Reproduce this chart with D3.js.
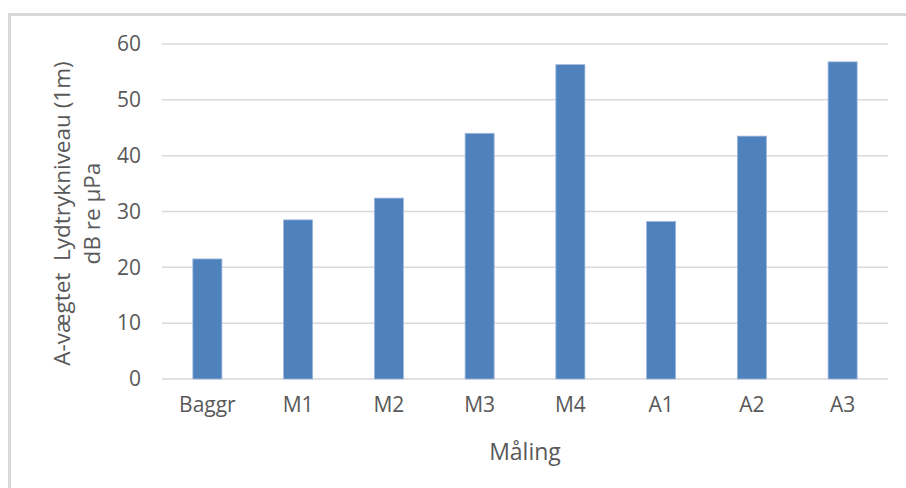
<!DOCTYPE html>
<html><head><meta charset="utf-8">
<script src="https://cdn.jsdelivr.net/npm/d3@7"></script>
<style>html,body{margin:0;padding:0;background:#fff;}svg{display:block;}</style>
</head><body>
<script>
const categories = ["Baggr","M1","M2","M3","M4","A1","A2","A3"];
const values = [21.5, 28.5, 32.4, 44.0, 56.3, 28.2, 43.5, 56.8];
const yTicks = [0,10,20,30,40,50,60];
const yTitle = ["A-vægtet  Lydtrykniveau (1m)", "dB re µPa"];
const xTitle = "Måling";

(function () {
const W = 906, H = 488;
const svg = d3.select("body").append("svg").attr("width", W).attr("height", H);
const font = "'Open Sans', sans-serif";
const textColor = "#595959";

// outer frame
svg.append("rect").attr("x", 9.5).attr("y", 14.5).attr("width", 910).attr("height", 500)
  .attr("fill", "none").attr("stroke", "#d9d9d9").attr("stroke-width", 3);

const pLeft = 162, pRight = 888, pTop = 44, pBottom = 379;
const x = d3.scaleBand().domain(categories).range([pLeft, pRight]).paddingInner(0.68).paddingOuter(0.34);
const y = d3.scaleLinear().domain([0, 60]).range([pBottom, pTop]);

// gridlines
svg.append("g").selectAll("line").data(yTicks).join("line")
  .attr("x1", pLeft).attr("x2", pRight)
  .attr("y1", d => y(d)).attr("y2", d => y(d))
  .attr("stroke", "#d9d9d9").attr("stroke-width", 1.5);

// bars
svg.append("g").selectAll("rect").data(values).join("rect")
  .attr("x", (d, i) => x(categories[i]))
  .attr("y", d => y(d))
  .attr("width", x.bandwidth())
  .attr("height", d => y(0) - y(d))
  .attr("fill", "#4f81bd")
  .attr("stroke", "#9db7dc").attr("stroke-width", 0.8);

// y axis
const yAxis = d3.axisLeft(y).tickValues(yTicks).tickSize(0).tickPadding(21);
const gy = svg.append("g").attr("transform", `translate(${pLeft},0)`).call(yAxis);
gy.select(".domain").remove();
gy.selectAll("text").attr("fill", textColor).style("font-family", font).style("font-size", "21px");

// x axis
const xAxis = d3.axisBottom(x).tickSize(0).tickPadding(18);
const gx = svg.append("g").attr("transform", `translate(0,${pBottom})`).call(xAxis);
gx.select(".domain").remove();
gx.selectAll("text").attr("fill", textColor).style("font-family", font).style("font-size", "21px");

// x title
svg.append("text").attr("x", 525).attr("y", 460).attr("text-anchor", "middle")
  .attr("fill", textColor).style("font-family", font).style("font-size", "23px").text(xTitle);

// y title
const yt = svg.append("text").attr("transform", `translate(0,${(pTop + pBottom) / 2 + 2}) rotate(-90)`)
  .attr("text-anchor", "middle").attr("fill", textColor)
  .style("font-family", font).style("font-size", "22.5px").style("white-space", "pre");
yt.selectAll("tspan").data(yTitle).join("tspan")
  .attr("x", 0).attr("y", (d, i) => 70 + i * 30).text(d => d);
})();
</script>
</body></html>
